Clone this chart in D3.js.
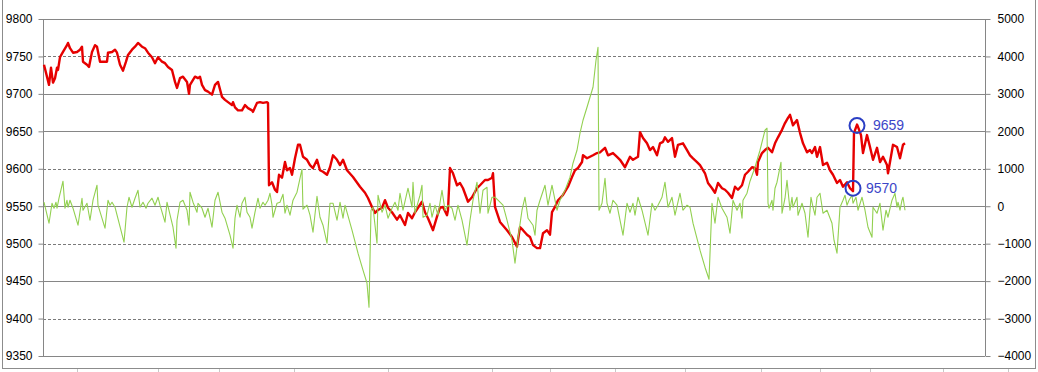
<!DOCTYPE html>
<html><head><meta charset="utf-8">
<script src="https://cdn.jsdelivr.net/npm/d3@7"></script>
<style>html,body{margin:0;padding:0;background:#fff;}svg{display:block;}</style>
</head><body>
<script>
// sample index (arbitrary time units) and values
const redT = [0,5,7,9,11,13,14,16,19,23,24,26,29,33,36,38,39,43,45,48,51,53,56,59,63,64,68,71,73,76,79,82,84,88,91,94,98,101,104,108,111,114,118,121,124,128,131,133,136,139,143,145,146,151,154,156,158,161,164,168,171,174,178,181,184,188,189,191,194,198,201,204,208,209,213,216,219,223,224,225,228,231,233,235,238,241,243,246,248,251,254,256,259,263,266,269,273,276,279,283,286,289,293,296,299,303,309,316,321,324,328,331,334,338,341,344,348,353,356,361,364,368,371,374,378,381,384,389,393,396,399,403,404,406,409,413,416,419,424,428,433,436,441,444,448,449,451,456,463,468,473,476,479,483,486,489,493,496,499,503,506,508,511,514,519,524,528,531,534,538,539,543,546,549,553,556,561,564,569,573,576,581,586,589,594,596,599,603,606,609,613,616,619,621,624,628,631,634,639,643,646,649,653,656,661,664,668,671,674,678,681,684,688,691,694,698,701,704,708,711,713,714,718,721,724,728,731,734,738,741,744,746,749,753,756,759,763,766,768,771,773,776,779,783,786,789,793,796,799,803,806,809,810,813,814,817,819,823,826,829,833,836,839,843,844,846,849,853,856,859,861];
const redV = [9739,9712,9735,9715,9721,9735,9732,9749,9756,9765,9768,9761,9755,9756,9759,9763,9743,9739,9736,9756,9765,9763,9743,9743,9743,9755,9756,9759,9755,9739,9731,9743,9752,9759,9763,9768,9763,9761,9755,9749,9741,9749,9743,9741,9736,9732,9716,9708,9721,9723,9716,9700,9712,9723,9721,9723,9712,9705,9703,9699,9712,9716,9696,9692,9689,9685,9689,9682,9678,9678,9685,9681,9678,9676,9688,9689,9688,9689,9688,9578,9582,9572,9569,9592,9588,9609,9598,9601,9592,9614,9632,9632,9616,9612,9605,9601,9612,9598,9596,9592,9602,9618,9612,9605,9612,9598,9589,9576,9568,9561,9549,9541,9545,9548,9558,9548,9542,9532,9538,9525,9541,9534,9542,9548,9556,9542,9534,9518,9536,9548,9549,9538,9545,9601,9594,9578,9581,9574,9556,9562,9574,9578,9585,9585,9588,9594,9549,9529,9518,9509,9496,9522,9518,9512,9509,9498,9494,9494,9514,9518,9512,9542,9549,9558,9565,9576,9589,9598,9601,9609,9618,9614,9616,9618,9621,9622,9628,9618,9621,9616,9612,9602,9616,9612,9616,9649,9641,9634,9625,9629,9618,9634,9636,9642,9636,9641,9616,9632,9634,9625,9618,9614,9609,9605,9594,9581,9574,9568,9581,9574,9572,9568,9561,9576,9572,9578,9592,9596,9602,9601,9592,9609,9621,9625,9628,9622,9634,9642,9652,9661,9668,9672,9658,9665,9648,9634,9622,9625,9621,9629,9616,9629,9605,9608,9598,9592,9581,9585,9576,9582,9574,9570,9648,9659,9656,9645,9621,9645,9629,9612,9628,9609,9616,9605,9594,9609,9632,9629,9614,9632,9634];

const greenT = [0,5,8,10,12,13,15,19,21,23,24,26,29,34,38,39,43,46,49,53,54,61,64,66,68,71,80,83,85,88,91,94,96,99,102,104,108,111,114,116,121,123,129,132,133,136,139,143,145,146,149,153,154,158,161,164,168,171,174,178,181,186,189,191,193,196,198,201,203,206,208,211,214,216,219,221,224,226,228,229,233,236,239,241,243,246,249,253,258,259,263,266,269,273,276,279,283,286,289,293,296,299,301,308,314,319,323,325,327,329,333,334,338,341,344,348,351,354,356,359,364,368,369,371,376,378,379,383,386,388,391,394,398,401,404,408,411,414,418,423,426,429,433,436,439,443,444,448,451,454,459,463,468,471,474,478,481,484,489,491,493,496,501,504,508,513,516,521,526,529,533,536,539,543,546,549,552,554,555,558,561,563,566,569,573,576,579,583,586,589,591,594,598,604,608,611,614,618,621,624,628,631,636,639,643,646,649,656,661,665,668,671,674,678,683,686,689,693,696,698,699,703,706,711,716,721,723,724,725,728,729,731,733,737,738,741,743,746,748,749,753,754,758,761,764,767,769,771,773,776,779,783,788,790,793,796,799,801,803,805,808,809,812,814,818,821,824,828,829,833,836,839,842,844,848,851,853,854,856,858,859,861];
const greenV = [107,-454,80,-53,107,-53,214,668,-53,160,-27,160,-53,-507,214,-107,80,-374,160,561,27,-587,160,27,107,-27,-961,-27,240,-27,214,427,-27,107,-53,80,214,27,240,27,-427,107,-561,-1121,-374,107,160,-107,-507,374,107,-160,80,-53,-294,-53,-561,160,374,-160,-320,-774,-1121,-320,27,-294,80,240,-160,-294,-587,-160,214,-53,107,27,160,347,27,-294,80,107,320,-187,27,-240,160,374,988,-80,27,-240,-694,267,-294,-507,-988,80,80,-374,107,-320,27,-641,-1255,-1709,-2056,-2697,-107,-27,-988,294,-160,27,-320,-53,107,-107,347,-107,481,-27,641,-187,294,561,-294,-240,80,-294,27,-240,427,-107,27,-53,-374,27,-374,-1041,-374,160,641,-187,427,507,-187,240,240,160,27,-374,-908,-1522,-854,-107,240,-320,-507,-774,-107,160,561,27,561,-107,160,427,774,1148,1495,1949,2296,2643,2910,3177,3898,4245,-107,80,748,80,-187,160,27,-374,-774,80,-160,80,-240,240,-107,-774,80,-107,27,240,641,-27,240,-240,347,-107,27,-27,-454,-1175,-1629,-1950,80,-454,240,-53,-294,-721,160,-107,80,-320,160,347,668,1041,1495,2029,2083,80,-53,160,-107,481,641,1175,-187,214,694,-107,240,-27,240,-240,80,-187,-828,240,-27,-240,240,347,-187,-107,-454,-908,-1255,-27,160,294,27,160,294,80,240,-107,240,-107,-561,-828,-27,-187,80,-641,-107,-294,160,347,-27,107,-107,160,240,-107];

const leftTicks = [9350,9400,9450,9500,9550,9600,9650,9700,9750,9800];
const rightTicks = [-4000,-3000,-2000,-1000,0,1000,2000,3000,4000,5000];
const dashedRight = [4000,1000,-1000,-3000];
const solidRight = [3000,2000,0,-2000];
const notes = [{t:813, label:"9659"},{t:809, label:"9570"}];
const sheetCols = [77,158,219,294,388,492,550,615,685,761,820,870,943,1008];

const W = 1038, H = 372;
const svg = d3.select("body").append("svg").attr("width", W).attr("height", H);

const x = d3.scaleLinear().domain([0, 861]).range([44, 905]);
const yL = d3.scaleLinear().domain([9350, 9800]).range([356, 19]);
const yR = d3.scaleLinear().domain([-4000, 5000]).range([356, 19]);
const L = 43, R = 985;

// spreadsheet cell marks below chart
svg.append("g").selectAll("line").data(sheetCols).join("line")
  .attr("x1", d => d + 0.5).attr("x2", d => d + 0.5).attr("y1", 369).attr("y2", 372)
  .attr("stroke", "#c8c8c8");

// chart border
svg.append("rect").attr("x", 2.5).attr("y", -1).attr("width", 1033).attr("height", 369.5)
  .attr("fill", "#fff").attr("stroke", "#8c8c8c");

// gridlines
svg.append("g").selectAll("line").data(solidRight).join("line")
  .attr("x1", L).attr("x2", R).attr("y1", d => Math.round(yR(d)) + 0.5).attr("y2", d => Math.round(yR(d)) + 0.5)
  .attr("stroke", "#868686");
svg.append("g").selectAll("line").data(dashedRight).join("line")
  .attr("x1", L).attr("x2", R).attr("y1", d => Math.round(yR(d)) + 0.5).attr("y2", d => Math.round(yR(d)) + 0.5)
  .attr("stroke", "#7a7a7a").attr("stroke-dasharray", "3,2");
// top and bottom of plot
svg.append("g").selectAll("line").data([5000, -4000]).join("line")
  .attr("x1", L).attr("x2", R).attr("y1", d => Math.round(yR(d)) + 0.5).attr("y2", d => Math.round(yR(d)) + 0.5)
  .attr("stroke", "#868686");

const font = "'Liberation Sans', Arial, sans-serif";
const gL = svg.append("g").attr("transform", `translate(${L + 0.5},0)`)
  .call(d3.axisLeft(yL).tickValues(leftTicks).tickSize(5).tickPadding(6).tickFormat(d3.format("d")));
const gR = svg.append("g").attr("transform", `translate(${R + 0.5},0)`)
  .call(d3.axisRight(yR).tickValues(rightTicks).tickSize(5).tickPadding(7).tickFormat(d3.format("d")));
[gL, gR].forEach(g => {
  g.select(".domain").attr("stroke", "#868686").attr("d", g === gL ? "M0,19V356" : "M0,19V356");
  g.selectAll(".tick line").attr("stroke", "#868686");
  g.selectAll(".tick text").attr("fill", "#000").style("font-family", font).style("font-size", "12px");
});

// series
const redData = redT.map((t, i) => [t, redV[i]]);
const greenData = greenT.map((t, i) => [t, greenV[i]]);

svg.append("path").datum(redData)
  .attr("fill", "none").attr("stroke", "#e60000").attr("stroke-width", 2.4).attr("stroke-linejoin", "round")
  .attr("d", d3.line().x(d => x(d[0])).y(d => yL(d[1])));
svg.append("path").datum(greenData)
  .attr("fill", "none").attr("stroke", "#92d050").attr("stroke-width", 1.1).attr("stroke-linejoin", "round")
  .attr("d", d3.line().x(d => x(d[0])).y(d => yR(d[1])));

// annotations
const noteData = notes.map(n => ({t: n.t, v: redV[redT.indexOf(n.t)], label: n.label}));
const gN = svg.append("g");
gN.selectAll("circle").data(noteData).join("circle")
  .attr("cx", d => x(d.t)).attr("cy", d => yL(d.v) + (d.label === "9570" ? -3 : 1)).attr("r", 7.5)
  .attr("fill", "none").attr("stroke", "#2b3fc4").attr("stroke-width", 2);
gN.selectAll("text").data(noteData).join("text")
  .attr("x", d => x(d.t) + (d.label === "9570" ? 13 : 16)).attr("y", d => yL(d.v) + (d.label === "9570" ? -3 : 1))
  .attr("dy", "0.35em").attr("fill", "#3c46c8")
  .style("font-family", font).style("font-size", "14px").text(d => d.label);
</script>
</body></html>
